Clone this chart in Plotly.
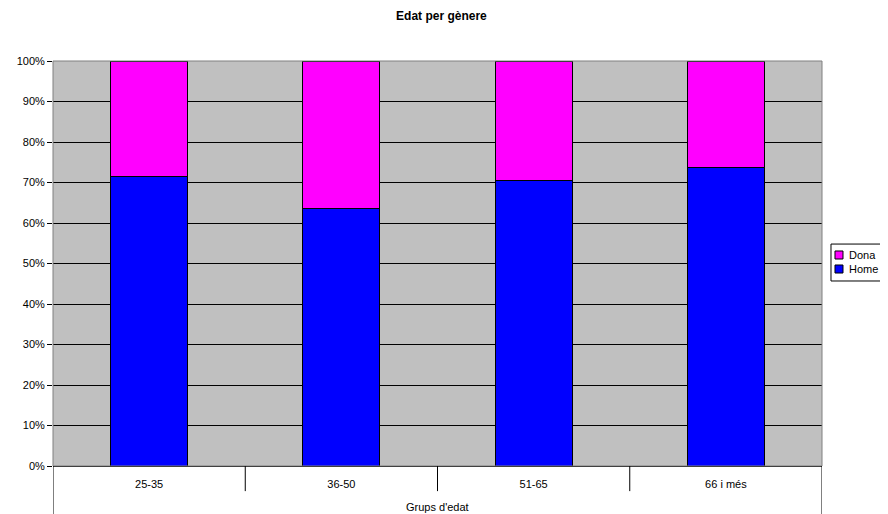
import plotly.graph_objects as go

categories = ["25-35", "36-50", "51-65", "66 i més"]
home = [71.4, 63.5, 70.5, 73.8]
dona = [28.6, 36.5, 29.5, 26.2]
y_ticks = [0, 10, 20, 30, 40, 50, 60, 70, 80, 90, 100]
y_tick_labels = [f"{v}%" for v in y_ticks]

FONT = "Liberation Sans, Arial, sans-serif"
series = [("Home", home, "#0000FF"), ("Dona", dona, "#FF00FF")]

fig = go.Figure()
for name, vals, col in series:
    fig.add_trace(go.Bar(x=categories, y=vals, name=name, showlegend=False,
                         marker=dict(color=col, line=dict(color="black", width=1))))

shapes = [
    dict(type="rect", xref="paper", yref="paper", x0=0, x1=1, y0=0, y1=1,
         line=dict(color="#808080", width=1), layer="above"),
]
n = len(categories)
for i in range(1, n):
    shapes.append(dict(type="line", xref="x", yref="paper", x0=i - 0.5, x1=i - 0.5,
                       y0=0, y1=-0.062, line=dict(color="black", width=1)))
for xb in (-0.5, n - 0.5):
    shapes.append(dict(type="line", xref="x", yref="paper", x0=xb, x1=xb,
                       y0=0, y1=-0.14, line=dict(color="black", width=1)))

annotations = [dict(text="Grups d'edat", xref="paper", yref="paper", x=0.5, y=-0.101, xanchor="center",
                    yanchor="middle", showarrow=False, font=dict(family=FONT, size=11))]

# legend (drawn, reversed order: Dona on top)
shapes.append(dict(type="rect", xref="paper", yref="paper", x0=1.0117, x1=1.12, y0=0.4568, y1=0.548,
                   line=dict(color="black", width=1), fillcolor="white"))
leg_y = [0.521, 0.4864]
for (name, vals, col), yc in zip(reversed(series), leg_y):
    shapes.append(dict(type="rect", xref="paper", yref="paper", x0=1.0169, x1=1.0273,
                       y0=yc - 0.0099, y1=yc + 0.0099, line=dict(color="black", width=1), fillcolor=col))
    annotations.append(dict(text=name, xref="paper", yref="paper", x=1.0325, y=yc, xanchor="left",
                            yanchor="middle", showarrow=False, font=dict(family=FONT, size=11)))

fig.update_layout(
    width=880, height=506,
    margin=dict(l=45, r=66, t=53, b=48, autoexpand=False),
    paper_bgcolor="white",
    plot_bgcolor="#C0C0C0",
    barmode="stack",
    bargap=0.6,
    font=dict(family=FONT, size=11, color="black"),
    title=dict(text="<b>Edat per gènere</b>", x=0.4925, xanchor="center", y=0.984, yanchor="middle",
               font=dict(family=FONT, size=12, color="black")),
    shapes=shapes,
    annotations=annotations,
)
fig.update_xaxes(type="category", showgrid=False, ticks="outside", ticklen=8, tickcolor="rgba(0,0,0,0)",
                 showline=True, linecolor="black", linewidth=1,
                 tickfont=dict(family=FONT, size=11), range=[-0.5, n - 0.5])
fig.update_yaxes(range=[0, 100], tickvals=y_ticks, ticktext=y_tick_labels, showgrid=True, gridcolor="black",
                 gridwidth=1, ticks="outside", ticklen=5, tickcolor="black", zeroline=False,
                 showline=False, tickfont=dict(family=FONT, size=11))

fig.write_html("out.html")
